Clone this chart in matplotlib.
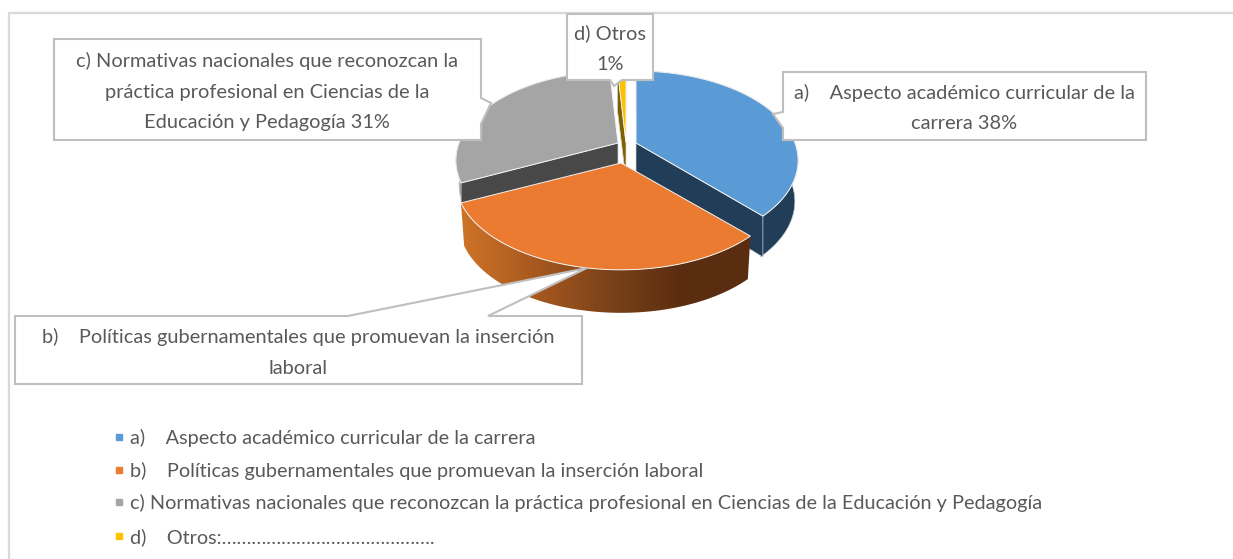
import numpy as np
import matplotlib
matplotlib.use("Agg")
import matplotlib.pyplot as plt
from matplotlib.patches import Polygon
from matplotlib.colors import LinearSegmentedColormap

plt.rcParams['font.family'] = ['Lato', 'DejaVu Sans']

values = [38, 30, 31, 1]
top_colors = ['#5b9bd5', '#ea7b30', '#a5a5a5', '#ffc000']
cut_colors = ['#223d57', '#6b3510', '#484848', '#7f6000']
apexes = [(636, 143), (621, 163), (618, 143), (626, 143)]
widths = [1, 1.02, 1, 1]
wall_depths = [41, 43, 25, 41]
legend_labels = ['a)    Aspecto académico curricular de la carrera',
                 'b)    Políticas gubernamentales que promuevan la inserción laboral',
                 'c) Normativas nacionales que reconozcan la práctica profesional en Ciencias de la Educación y Pedagogía',
                 'd)    Otros:' + '…' * 14 + '.']
legend_y = [438, 471, 503, 537]
text_color = '#595959'

# rim of the pie, a circle under a perspective tilt
A, B, K = 159, 86, 0.195

def rim(t0, t1, apex, stretch=1, n=80):
    t = np.radians(np.linspace(t0, t1, n))
    w = 1 + K*np.cos(t)
    return apex[0] + stretch*A*np.sin(t)/w, apex[1] - B*np.cos(t)/w

def wall(t0, t1, apex, stretch, depth):
    x, y = rim(t0, t1, apex, stretch)
    xb = apex[0] + (x-apex[0])*0.98
    yb = y + depth
    return np.r_[np.c_[x, y], np.c_[xb, yb][::-1]]

fig = plt.figure(figsize=(12.33, 5.59), dpi=100)
ax = fig.add_axes([0, 0, 1, 1])

# frame of the chart area
ax.plot([8.5, 8.5, 1233], [559, 13, 13], color='#d9d9d9', lw=1.6)

edges = np.r_[0, np.cumsum(values)] * 360 / sum(values)
draw_order = [2, 3, 0, 1]
for z, i in enumerate(draw_order):
    t0, t1 = edges[i], edges[i+1]
    apex = apexes[i]
    depth = wall_depths[i]
    x, y = rim(t0, t1, apex, widths[i])
    if i == 1:
        # front slice, outer wall has a left to right shade
        pts = wall(t0, t1, apex, widths[i], depth)
        cmap = LinearSegmentedColormap.from_list('w', ['#cf7429', '#a9591f', '#7d431a', '#5c2e10', '#5a2d10'])
        im = ax.imshow(np.linspace(0, 1, 256)[None, :], cmap=cmap, extent=(459, 752, 320, 200),
                       aspect='auto', zorder=z+2)
        im.set_clip_path(Polygon(pts, transform=ax.transData))
    else:
        wall_color = {0: cut_colors[0], 2: '#8a8a8a', 3: cut_colors[3]}[i]
        ax.add_patch(Polygon(wall(t0, t1, apex, widths[i], depth), fc=wall_color, ec='#c8d0d8', lw=0.5, zorder=z+2))
        # inner cut face that stays visible
        ex, ey = (x[-1], y[-1]) if i == 0 else (x[0], y[0])
        face = [apex, (ex, ey), (ex, ey+depth), (apex[0], apex[1]+depth*0.9)]
        ax.add_patch(Polygon(face, fc=cut_colors[i], ec='#d5d5d5', lw=0.5, zorder=z+2.2))
    ax.add_patch(Polygon(np.r_[[apex], np.c_[x, y]], fc=top_colors[i], ec='#f4f4f4', lw=0.7, zorder=z+2.4))

# callouts, each a box with a pointer to its slice
callouts = [
    ([(783, 72), (1146, 72), (1146, 140), (783, 140), (783, 128), (773, 114), (783, 112)],
     ['a)    Aspecto académico curricular de la', 'carrera 38%'], (964, 108)),
    ([(15, 316), (348, 316), (587, 268), (488, 316), (582, 316), (582, 384), (15, 384)],
     ['b)    Políticas gubernamentales que promuevan la inserción', 'laboral'], (298, 352.5)),
    ([(54, 39), (481, 39), (481, 98), (491, 103), (481, 124), (481, 140), (54, 140)],
     ['c) Normativas nacionales que reconozcan la', 'práctica profesional en Ciencias de la',
      'Educación y Pedagogía 31%'], (267, 91.5)),
    ([(567, 14), (653, 14), (653, 80), (622, 80), (614, 86), (610, 80), (567, 80)],
     ['d) Otros', '1%'], (610, 48.5)),
]
for outline, lines, pos in callouts:
    ax.add_patch(Polygon(outline, fc='white', ec='#bfbfbf', lw=1.5, zorder=10))
    ax.text(pos[0], pos[1], '\n'.join(lines), ha='center', va='center', fontsize=14.4,
            color=text_color, linespacing=1.97, zorder=11)

# legend
for c, lab, ly in zip(top_colors, legend_labels, legend_y):
    ax.plot([118.5], [ly-1], marker='s', ms=4.8, color=c, ls='none', zorder=11)
    ax.text(130, ly, lab, ha='left', va='center', fontsize=14.3, color=text_color, zorder=11)

ax.set_xlim(0, 1233)
ax.set_ylim(559, 0)
ax.axis('off')
fig.savefig('out.png', dpi=100)
